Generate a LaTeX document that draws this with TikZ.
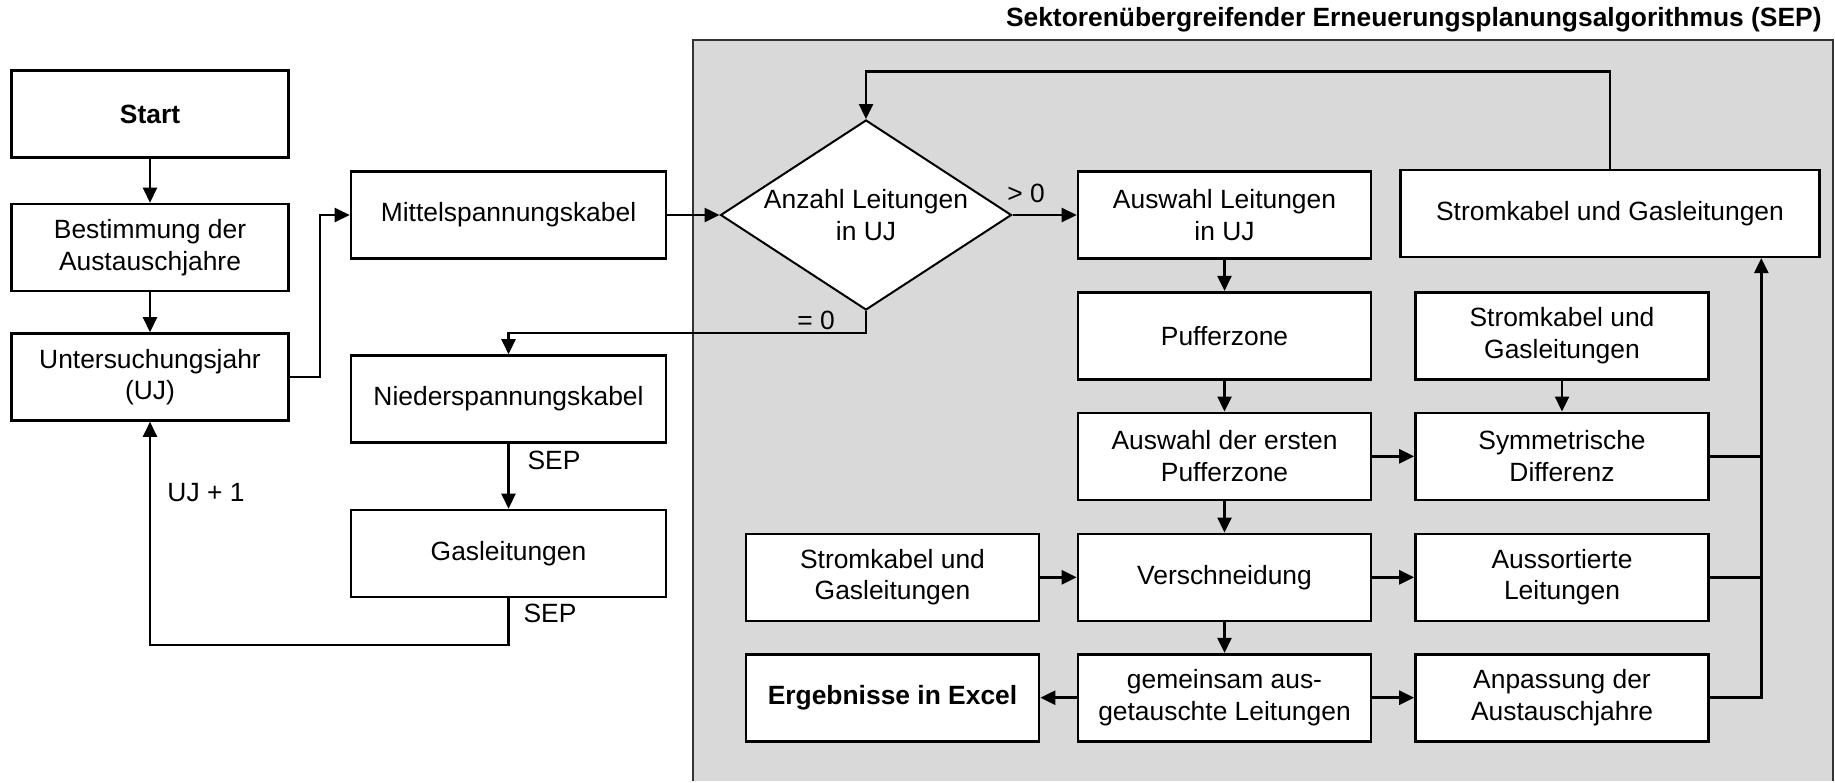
\documentclass[tikz,border=0pt]{standalone}
\usepackage{fontspec}
\setmainfont{Liberation Sans}
\usetikzlibrary{shapes.geometric,arrows.meta}
\definecolor{sepgray}{HTML}{D9D9D9}
\begin{document}
\begin{tikzpicture}[x=0.5pt,y=-0.5pt,
  font=\fontsize{13.2}{15.8}\selectfont,
  box/.style={draw,line width=1.3pt,fill=white,align=center,inner sep=0pt,minimum height=43.5pt},
  wl/.style={box,minimum width=138.5pt},
  wm/.style={box,minimum width=157.5pt},
  wr/.style={box,minimum width=146.5pt},
  arr/.style={line width=1.25pt,-{Triangle[length=7.5pt,width=7pt]}},
  ln/.style={line width=1.25pt},
  lab/.style={inner sep=0pt}]
\useasboundingbox (0,0) rectangle (1835,782);
% SEP area
\fill[sepgray] (693,40) rectangle (1833,781);
\draw[line width=1pt,black!80] (693,781) -- (693,40) -- (1833,40) -- (1833,781);
\node[lab,anchor=east,font=\fontsize{13.2}{15.8}\selectfont\bfseries] (title) at (1822,20) {Sektorenübergreifender Erneuerungsplanungsalgorithmus (SEP)};
% left column
\node[wl,font=\fontsize{13.2}{15.8}\selectfont\bfseries] (start) at (150,114) {Start};
\node[wl] (best) at (150,247.5) {Bestimmung der\\Austauschjahre};
\node[wl] (uj) at (150,377) {Untersuchungsjahr\\(UJ)};
% middle column
\node[wm] (mit) at (508.5,215) {Mittelspannungskabel};
\node[wm] (nied) at (508.5,399) {Niederspannungskabel};
\node[wm] (gas) at (508.5,553.5) {Gasleitungen};
% diamond
\node[draw,fill=white,line width=1pt,shape=diamond,shape aspect=1.53,inner sep=-2pt,
  minimum width=145.5pt,minimum height=95pt,align=center] (dia) at (866,215) {Anzahl Leitungen\\in UJ};
% SEP boxes
\node[wr] (ausw) at (1224.5,215) {Auswahl Leitungen\\in UJ};
\node[box,minimum width=209.5pt] (strom) at (1610,213.3) {Stromkabel und Gasleitungen};
\node[wr] (puf) at (1224.5,335.7) {Pufferzone};
\node[wr] (stromr) at (1562,335.7) {Stromkabel und\\Gasleitungen};
\node[wr] (erste) at (1224.5,456.3) {Auswahl der ersten\\Pufferzone};
\node[wr] (sym) at (1562,456.3) {Symmetrische\\Differenz};
\node[wr] (strol) at (892.5,577.3) {Stromkabel und\\Gasleitungen};
\node[wr] (ver) at (1224.5,577.3) {Verschneidung};
\node[wr] (aus) at (1562,577.3) {Aussortierte\\Leitungen};
\node[wr,font=\fontsize{13.2}{15.8}\selectfont\bfseries] (erg) at (892.5,697.7) {Ergebnisse in Excel};
\node[wr] (gem) at (1224.5,697.7) {gemeinsam aus-\\getauschte Leitungen};
\node[wr] (anp) at (1562,697.7) {Anpassung der\\Austauschjahre};
% helper coordinates
\coordinate (k1) at (320,215);
\coordinate (k2) at (508.5,333);
\coordinate (k3) at (508.5,645);
\coordinate (k4) at (866,71.7);
\coordinate (col) at (1761.3,0);
% connectors left
\draw[arr] (start) -- (best);
\draw[arr] (best) -- (uj);
\draw[arr] (uj.east) -| (k1) -- (mit.west);
\draw[arr] (mit.east) -- (dia.west);
\draw[arr] (dia.east) -- (ausw.west);
\node[lab] (gt) at (1026,193) {> 0};
\draw[arr] (dia.south) |- (k2) -- (nied.north);
\node[lab] (eq) at (816,320) {= 0};
\draw[arr] (nied.south) -- (gas.north);
\node[lab] (sep1) at (554,460) {SEP};
\draw[arr] (gas.south) -- (k3) -| (uj.south);
\node[lab] (sep2) at (550,613) {SEP};
\node[lab] (uj1) at (206,493) {UJ + 1};
% SEP connectors
\draw[arr] (strom.north) |- (k4) -- (dia.north);
\draw[arr] (ausw) -- (puf);
\draw[arr] (puf) -- (erste);
\draw[arr] (erste) -- (ver);
\draw[arr] (ver) -- (gem);
\draw[arr] (stromr) -- (sym);
\draw[arr] (erste) -- (sym);
\draw[arr] (strol) -- (ver);
\draw[arr] (ver) -- (aus);
\draw[arr] (gem) -- (erg);
\draw[arr] (gem) -- (anp);
\draw[ln] (sym.east) -- (sym.east -| col);
\draw[ln] (aus.east) -- (aus.east -| col);
\draw[arr] (anp.east) -| (col |- strom.south);
\end{tikzpicture}
\end{document}
